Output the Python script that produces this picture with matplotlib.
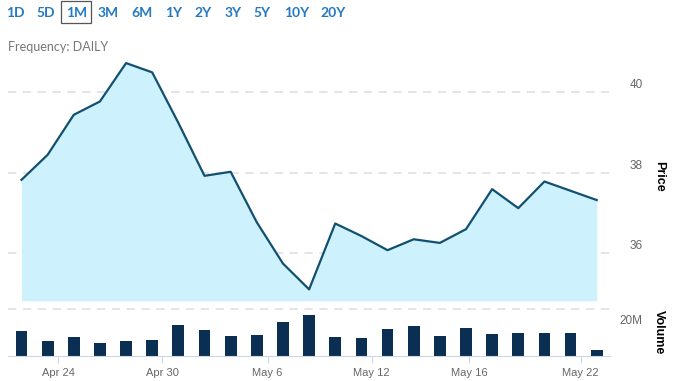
import matplotlib
matplotlib.use('Agg')
import matplotlib.pyplot as plt
from matplotlib.patches import Rectangle

# trading days shown on the 1M view
dates = ['2025-04-22', '2025-04-23', '2025-04-24', '2025-04-25', '2025-04-28',
         '2025-04-29', '2025-04-30', '2025-05-01', '2025-05-02', '2025-05-05',
         '2025-05-06', '2025-05-07', '2025-05-08', '2025-05-09', '2025-05-12',
         '2025-05-13', '2025-05-14', '2025-05-15', '2025-05-16', '2025-05-19',
         '2025-05-20', '2025-05-21', '2025-05-22']
price = [37.82, 38.44, 39.43, 39.76, 40.71, 40.48, 39.23, 37.92, 38.02, 36.77,
         35.75, 35.11, 36.74, 36.43, 36.08, 36.35, 36.26, 36.60, 37.59, 37.12,
         37.78, 37.55, 37.32]
volume_m = [18.1, 10.9, 13.6, 9.1, 10.9, 11.4, 21.9, 18.6, 14.3, 15.0, 24.3,
            29.1, 13.6, 12.9, 19.3, 21.4, 14.3, 20.0, 15.5, 16.2, 16.2, 16.2, 4.5]

tick_labels = ['Apr 24', 'Apr 30', 'May 6', 'May 12', 'May 16', 'May 22']
price_ticks = [36, 38, 40]
volume_ticks = [20]
ranges = ['1D', '5D', '1M', '3M', '6M', '1Y', '2Y', '3Y', '5Y', '10Y', '20Y']
selected = '1M'

# layout (pixels of the 678x381 picture)
W, H = 678, 381
tick_pos = [1.40, 5.38, 9.41, 13.39, 17.12, 21.38]
range_x = [15.3, 45.5, 76.3, 108, 141.5, 173.3, 202.8, 233, 262.5, 297, 332.8]

LINE = '#12506f'
FILL = '#cdf1fd'
BAR = '#0a2f52'
GRID = '#dedede'
AXIS = '#ccd6eb'
LABEL = '#666666'
BLUE = '#2479c1'


def fx(px):
    return px / W


def fy(py):
    return 1 - py / H


fig = plt.figure(figsize=(W / 100, H / 100), dpi=100)

left, right = 8.4, 609.8
x = list(range(len(dates)))

# price panel
ax = fig.add_axes([fx(left), fy(300.7), (right - left) / W, (300.7 - 55) / H])
ymin = 34.83
ax.set_xlim(-0.5, len(dates) - 0.5)
ax.set_ylim(ymin, 40.91)
for v in price_ticks:
    ax.axhline(v, color=GRID, lw=1.1, linestyle=(0, (5.5, 4.2)), zorder=0)
    ax.annotate(str(v), xy=(1, v), xycoords=('axes fraction', 'data'),
                xytext=(33, 7), textcoords='offset pixels', ha='right',
                va='center', fontsize=8.5, color=LABEL, family='Liberation Sans')
ax.fill_between(x, price, ymin, color=FILL, lw=0, zorder=1)
ax.plot(x, price, color=LINE, lw=1.6, zorder=2)
ax.axis('off')

# volume panel
vax = fig.add_axes([fx(left), fy(356), (right - left) / W, (356 - 309.3) / H])
vtop = 33.36
vax.set_xlim(-0.5, len(dates) - 0.5)
vax.set_ylim(0, vtop)
vax.bar(x, volume_m, width=0.45, color=BAR, zorder=2)
vax.axhline(vtop, color=GRID, lw=1.1, linestyle=(0, (5.5, 4.2)), clip_on=False)
for v in volume_ticks:
    vax.annotate(f'{v}M', xy=(1, v), xycoords=('axes fraction', 'data'),
                 xytext=(33, 7), textcoords='offset pixels', ha='right',
                 va='center', fontsize=8.5, color=LABEL, family='Liberation Sans')
for s in ['top', 'left', 'right']:
    vax.spines[s].set_visible(False)
vax.spines['bottom'].set_color(AXIS)
vax.spines['bottom'].set_linewidth(0.8)
vax.set_yticks([])
vax.set_xticks(tick_pos)
vax.set_xticklabels(tick_labels, fontsize=8, color=LABEL, family='Liberation Sans')
vax.tick_params(axis='x', length=5, width=0.8, color=AXIS, pad=4)

# right-hand axis titles
fig.text(fx(659), fy(176), 'Price', rotation=-90, ha='center', va='center',
         fontsize=9, color='black', fontweight='bold', family='Liberation Sans')
fig.text(fx(659), fy(332), 'Volume', rotation=-90, ha='center', va='center',
         fontsize=9, color='black', fontweight='bold', family='Liberation Sans')

# range selector
for lab, cx in zip(ranges, range_x):
    fig.text(fx(cx), fy(12.7), lab, ha='center', va='center', fontsize=10,
             color=BLUE, fontweight='bold', family='Lato')
    if lab == selected:
        fig.patches.append(Rectangle((fx(61.3), fy(23.3)), (91 - 61.3) / W, 22.3 / H,
                                     transform=fig.transFigure, fill=False,
                                     edgecolor='#555555', lw=0.9))

fig.text(fx(8), fy(47), 'Frequency: DAILY', ha='left', va='center', fontsize=9,
         color='#777777', family='Lato')

fig.savefig('out.png', dpi=100)
